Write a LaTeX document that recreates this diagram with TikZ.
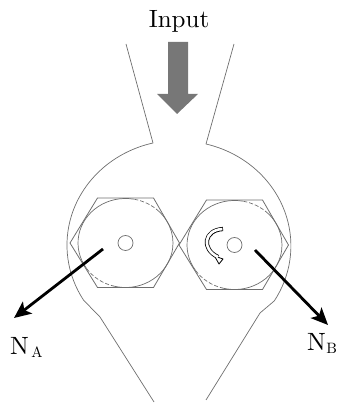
\documentclass[tikz,border=0pt]{standalone}
\usetikzlibrary{arrows.meta}
\definecolor{linegray}{HTML}{6E6E6E}
\definecolor{blockgray}{HTML}{777777}
\tikzset{
  x=1pt,y=1pt,
  casing/.style={draw=linegray,line width=0.7pt,line join=round},
  thin gear/.style={draw=linegray,line width=0.8pt,line join=miter},
  dash part/.style={draw=linegray,line width=0.7pt,dash pattern=on 4pt off 2pt},
  force/.style={draw=black,line width=2.8pt,-{Stealth[length=17pt,width=15pt,inset=4pt]}},
  biglabel/.style={inner sep=0pt},
  forcelabel/.style={inner sep=0pt,anchor=base west},
}
\newcommand{\gearpair}[2]{%
  \draw[thin gear] (#1-55.5,#2) -- (#1-28,#2+45) -- (#1+28,#2+45) -- (#1+54,#2) -- (#1+28,#2-44.5) -- (#1-28,#2-44.5) -- cycle;
  \draw[casing] (#1+47.5*0.174,#2+44.5*0.985) arc[start angle=80,end angle=215,x radius=47.5,y radius=44.5];
  \draw[dash part] (#1-47.5*0.819,#2-44.5*0.574) arc[start angle=215,end angle=255,x radius=47.5,y radius=44.5];
  \draw[casing] (#1-47.5*0.259,#2-44.5*0.966) arc[start angle=255,end angle=405,x radius=47.5,y radius=44.5];
  \draw[dash part] (#1+47.5*0.707,#2+44.5*0.707) arc[start angle=45,end angle=80,x radius=47.5,y radius=44.5];
  \draw[casing] (#1,#2) circle[radius=7.5];
}
\newcommand{\forcetext}[2]{\scalebox{2.5}{N}\kern#2\raisebox{-2pt}{\scalebox{1.5}{#1}}}
\begin{document}
\begin{tikzpicture}
\useasboundingbox (0,0) rectangle (338,403);
% casing: y values are 403 minus the reference's pixel row
\draw[casing] (126,359) -- (153,260)
  arc[start angle=103.4,end angle=211.6,x radius=112,y radius=105]
  -- (100,86) -- (154,1);
\draw[casing] (234,359) -- (206,259)
  arc[start angle=76,end angle=-31.6,x radius=112,y radius=105]
  -- (260,90) -- (206,3);
% gears
\gearpair{125.5}{160}
\gearpair{234.5}{158}
% input arrow
\node[biglabel] (input) at (179,382) {\scalebox{2.5}{Input}};
\fill[blockgray] (168,361) -- (188,361) -- (188,309) -- (198,309) -- (177,289) -- (157,309) -- (168,309) -- cycle;
% rotation arrow
\coordinate (rotA) at (223,174);
\coordinate (rotB) at (218,146);
\draw[black,line width=4.2pt] (rotA) .. controls (204,173) and (201,154) .. (rotB);
\draw[black,fill=white,line width=0.8pt,line join=round] (214.5,147) -- (223,144) -- (219,139) -- cycle;
\draw[white,line width=2.6pt,shorten <=0.6pt] (rotA) .. controls (204,173) and (201,154) .. (rotB);
% force arrows
\coordinate (fa) at (103,154);
\coordinate (fb) at (255,153);
\node[forcelabel] (na) at (10,48) {\forcetext{A}{2.5pt}};
\node[forcelabel] (nb) at (307,52) {\forcetext{B}{0.5pt}};
\coordinate (faend) at (14,85);
\coordinate (fbend) at (328,78);
\draw[force] (fa) -- (faend);
\draw[force] (fb) -- (fbend);
\end{tikzpicture}
\end{document}
